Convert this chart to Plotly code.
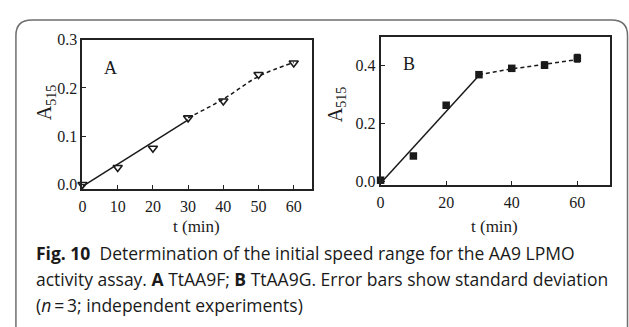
import plotly.graph_objects as go

W, H = 629, 327

# ---- data ----
t_a = [0, 10, 20, 30, 40, 50, 60]
a515_a = [0.0, 0.035, 0.075, 0.138, 0.173, 0.228, 0.252]
fit_a_solid_x = [0, 30]
fit_a_solid_y = [-0.004, 0.134]
fit_a_dash_x = [30, 40, 50, 60]
fit_a_dash_y = [0.138, 0.177, 0.224, 0.253]

t_b = [0, 10, 20, 30, 40, 50, 60]
a515_b = [0.003, 0.087, 0.263, 0.369, 0.391, 0.402, 0.426]
err_b = [0.004, 0.004, 0.004, 0.005, 0.005, 0.011, 0.013]
fit_b_solid_x = [0, 30]
fit_b_solid_y = [-0.008, 0.366]
fit_b_dash_x = [30, 40, 50, 60]
fit_b_dash_y = [0.369, 0.389, 0.405, 0.421]

ticks_a_y = [0.0, 0.1, 0.2, 0.3]
ticks_a_x = [0, 10, 20, 30, 40, 50, 60]
ticks_b_y = [0.0, 0.2, 0.4]
ticks_b_x = [0, 20, 40, 60]

caption_lines = [
    "<b>Fig. 10</b>  Determination of the initial speed range for the AA9 LPMO",
    "activity assay. <b>A</b> TtAA9F; <b>B</b> TtAA9G. Error bars show standard deviation",
    "(<i>n</i>\u2009=\u20093; independent experiments)",
]


def px(x):
    return x / W


def py(y):
    return 1 - y / H


SERIF = "Liberation Serif, Times New Roman, serif"
SANS = "Open Sans, Noto Sans, sans-serif"
INK = "#1a1a1a"

fig = go.Figure()

# Panel A
fig.add_trace(go.Scatter(x=fit_a_solid_x, y=fit_a_solid_y, mode="lines",
                         line=dict(color=INK, width=1.5), xaxis="x", yaxis="y",
                         showlegend=False, cliponaxis=False))
fig.add_trace(go.Scatter(x=fit_a_dash_x, y=fit_a_dash_y, mode="lines",
                         line=dict(color=INK, width=1.5, dash="4px,3px", shape="spline"),
                         xaxis="x", yaxis="y", showlegend=False))
fig.add_trace(go.Scatter(x=t_a, y=a515_a, mode="markers",
                         marker=dict(symbol="triangle-down-open", size=8, color=INK,
                                     line=dict(width=1.6, color=INK)),
                         xaxis="x", yaxis="y", showlegend=False, cliponaxis=False))

# Panel B
fig.add_trace(go.Scatter(x=fit_b_solid_x, y=fit_b_solid_y, mode="lines",
                         line=dict(color=INK, width=1.5), xaxis="x2", yaxis="y2",
                         showlegend=False, cliponaxis=False))
fig.add_trace(go.Scatter(x=fit_b_dash_x, y=fit_b_dash_y, mode="lines",
                         line=dict(color=INK, width=1.5, dash="4px,3px"),
                         xaxis="x2", yaxis="y2", showlegend=False))
fig.add_trace(go.Scatter(x=t_b, y=a515_b, mode="markers",
                         marker=dict(symbol="square", size=7.5, color=INK),
                         error_y=dict(type="data", array=err_b, color=INK, thickness=1.5, width=3),
                         xaxis="x2", yaxis="y2", showlegend=False, cliponaxis=False))

axis_common = dict(
    showgrid=False, zeroline=False, showline=True, linecolor="#222", linewidth=2,
    mirror=True, ticks="inside", ticklen=4, tickwidth=1.2, tickcolor="#222",
    tickfont=dict(family=SERIF, size=16, color=INK),
)
xaxis_extra = dict(ticklabelstandoff=2)

fig.update_layout(
    width=W, height=H,
    margin=dict(l=0, r=0, t=0, b=0),
    paper_bgcolor="white", plot_bgcolor="white",
    xaxis=dict(domain=[px(79), px(310)], range=[0, 65.2], tickvals=ticks_a_x,
               anchor="y", **axis_common, **xaxis_extra),
    yaxis=dict(domain=[py(188), py(33)], range=[-0.0097, 0.3], tickvals=ticks_a_y,
               tickformat=".1f", anchor="x", **axis_common),
    xaxis2=dict(domain=[px(379), px(610)], range=[0, 70], tickvals=ticks_b_x,
                anchor="y2", **axis_common, **xaxis_extra),
    yaxis2=dict(domain=[py(184), py(30)], range=[-0.0145, 0.5], tickvals=ticks_b_y,
                tickformat=".1f", anchor="x2", **axis_common),
)

ann = []
C = dict(xref="paper", yref="paper", xanchor="center", yanchor="middle", showarrow=False)
# panel labels
ann.append(dict(text="A", x=px(107), y=py(62), font=dict(family=SERIF, size=18, color=INK), **C))
ann.append(dict(text="B", x=px(408), y=py(58), font=dict(family=SERIF, size=18, color=INK), **C))
# axis titles
for xp, yp in [(42, 98), (334, 100)]:
    ann.append(dict(text="A<sub>515</sub>", x=px(xp), y=py(yp), textangle=-90,
                    font=dict(family=SERIF, size=20, color=INK), **C))
for xp in [194, 494]:
    ann.append(dict(text="t (min)", x=px(xp), y=py(227),
                    font=dict(family=SERIF, size=17, color=INK), **C))
# caption
for i, line in enumerate(caption_lines):
    ann.append(dict(text=line, x=px(30), y=py(254 + 27 * i), xref="paper", yref="paper",
                    xanchor="left", yanchor="middle", showarrow=False,
                    font=dict(family=SANS, size=17.5, color=INK)))
fig.update_layout(annotations=ann)

# rounded frame
L, T, R, B, r = 12, 12.5, 627.5, 345, 16
path = (f"M {px(L)},{py(B)} L {px(L)},{py(T + r)} Q {px(L)},{py(T)} {px(L + r)},{py(T)} "
        f"L {px(R - r)},{py(T)} Q {px(R)},{py(T)} {px(R)},{py(T + r)} L {px(R)},{py(B)}")
fig.add_shape(type="path", path=path, xref="paper", yref="paper",
              line=dict(color="#6e6e6e", width=1.5), layer="below")

fig.write_html("out.html", post_script="document.body.style.margin='0';")
